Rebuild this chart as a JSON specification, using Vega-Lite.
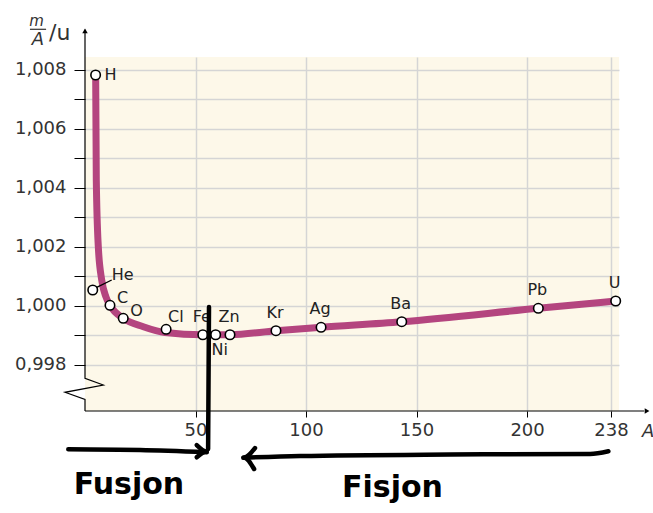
{
  "$schema": "https://vega.github.io/schema/vega-lite/v6.json",
  "width": 534,
  "height": 354,
  "autosize": {"type": "none"},
  "padding": {"left": 85, "top": 57, "right": 34, "bottom": 102},
  "background": "white",
  "config": {"view": {"fill": "#FDF8E9", "stroke": null}, "font": "DejaVu Sans"},
  "encoding": {
    "x": {"field": "A", "type": "quantitative",
      "scale": {"domain": [0, 241.6], "nice": false, "zero": false},
      "axis": {"values": [50, 100, 150, 200, 238], "title": null, "grid": true, "gridColor": "#D5D5D5", "gridWidth": 1.5, "domain": false, "tickColor": "#000", "tickSize": 6, "tickWidth": 1, "labelFontSize": 18, "labelColor": "#333", "labelPadding": 4, "labelFlush": false, "labelOverlap": false, "labelFont": "DejaVu Sans"}},
    "y": {"field": "m", "type": "quantitative",
      "scale": {"domain": [0.996427, 1.008427], "nice": false, "zero": false},
      "axis": {"values": [0.998, 0.999, 1.0, 1.001, 1.002, 1.003, 1.004, 1.005, 1.006, 1.007, 1.008], "title": null, "grid": true, "gridColor": "#D5D5D5", "gridWidth": 1.5, "domain": false, "tickColor": "#000", "tickSize": 11, "tickWidth": 1, "labelFontSize": 18, "labelColor": "#333", "labelPadding": 8, "labelFlush": false, "labelOverlap": false, "labelFont": "DejaVu Sans",
        "labelExpr": "round(datum.value*1000)%2==0 ? replace(format(datum.value,'.3f'),'.',',') : ''"}}
  },
  "layer": [
    {
      "data": {"values": [
        {"A": 4.84, "m": 1.007647},
        {"A": 5.11, "m": 1.004258},
        {"A": 6.02, "m": 1.001997},
        {"A": 7.56, "m": 1.000868},
        {"A": 9.5, "m": 1.000291},
        {"A": 11.31, "m": 1.00001},
        {"A": 17.33, "m": 0.999569},
        {"A": 26.38, "m": 0.999285},
        {"A": 36.2, "m": 0.999088},
        {"A": 53.26, "m": 0.999013},
        {"A": 65.6, "m": 0.999013},
        {"A": 86.4, "m": 0.999149},
        {"A": 106.8, "m": 0.999264},
        {"A": 143.3, "m": 0.999454},
        {"A": 205.1, "m": 0.999908},
        {"A": 240.1, "m": 1.000156}
      ]},
      "mark": {"type": "line", "interpolate": "monotone", "color": "#B4457F", "strokeWidth": 7, "strokeCap": "round"}
    },
    {
      "data": {"values": [
        {"o": 1, "A": 0, "m": 1.00935},
        {"o": 2, "A": 0, "m": 0.997535},
        {"o": 3, "A": 8.28, "m": 0.997308},
        {"o": 4, "A": -9.05, "m": 0.997061},
        {"o": 5, "A": 0, "m": 0.996823},
        {"o": 6, "A": 0, "m": 0.996427}
      ]},
      "mark": {"type": "line", "color": "#000", "strokeWidth": 1.2},
      "encoding": {"order": {"field": "o", "type": "quantitative"}}
    },
    {
      "data": {"values": [{"A": 0, "A2": 253, "m": 0.996427}]},
      "mark": {"type": "rule", "color": "#000", "strokeWidth": 1.2},
      "encoding": {"x2": {"field": "A2"}}
    },
    {
      "data": {"values": [{"A": 0, "m": 1.00931}]},
      "mark": {"type": "point", "shape": "triangle-up", "filled": true, "color": "#000", "size": 30, "opacity": 1}
    },
    {
      "data": {"values": [{"A": 254.3, "m": 0.996427}]},
      "mark": {"type": "point", "shape": "triangle-right", "filled": true, "color": "#000", "size": 30, "opacity": 1}
    },
    {
      "data": {"values": [{"A": 5.29, "m": 1.00062, "A2": 12.08, "m2": 1.000868}]},
      "mark": {"type": "rule", "color": "#000", "strokeWidth": 1.3},
      "encoding": {"x2": {"field": "A2"}, "y2": {"field": "m2"}}
    },
    {
      "data": {"name": "pts", "values": [
        {"el": "H", "A": 4.8, "m": 1.007817, "place": "right"},
        {"el": "He", "A": 3.5, "m": 1.000529, "place": "he"},
        {"el": "C", "A": 11.3, "m": 1.00001, "place": "upright"},
        {"el": "O", "A": 17.3, "m": 0.999569, "place": "upright"},
        {"el": "Cl", "A": 36.7, "m": 0.999196, "place": "upright2"},
        {"el": "Fe", "A": 53.3, "m": 0.999013, "place": "above"},
        {"el": "Ni", "A": 59.1, "m": 0.999013, "place": "below"},
        {"el": "Zn", "A": 65.6, "m": 0.999013, "place": "above"},
        {"el": "Kr", "A": 86.4, "m": 0.999149, "place": "above"},
        {"el": "Ag", "A": 106.8, "m": 0.999264, "place": "above"},
        {"el": "Ba", "A": 143.3, "m": 0.999454, "place": "above"},
        {"el": "Pb", "A": 205.1, "m": 0.999908, "place": "above"},
        {"el": "U", "A": 240.1, "m": 1.000156, "place": "above"}
      ]},
      "layer": [
        {"mark": {"type": "point", "shape": "circle", "filled": true, "fill": "white", "stroke": "#000", "strokeWidth": 1.6, "size": 90, "opacity": 1}},
        {"transform": [{"filter": "datum.place=='right'"}], "mark": {"type": "text", "align": "left", "baseline": "middle", "dx": 9, "dy": 0, "fontSize": 16, "color": "#222"}, "encoding": {"text": {"field": "el"}}},
        {"transform": [{"filter": "datum.place=='upright'"}], "mark": {"type": "text", "align": "left", "baseline": "middle", "dx": 7, "dy": -7, "fontSize": 16, "color": "#222"}, "encoding": {"text": {"field": "el"}}},
        {"transform": [{"filter": "datum.place=='upright2'"}], "mark": {"type": "text", "align": "left", "baseline": "middle", "dx": 2, "dy": -12, "fontSize": 16, "color": "#222"}, "encoding": {"text": {"field": "el"}}},
        {"transform": [{"filter": "datum.place=='above'"}], "mark": {"type": "text", "align": "center", "baseline": "middle", "dx": -1, "dy": -18, "fontSize": 16, "color": "#222"}, "encoding": {"text": {"field": "el"}}},
        {"transform": [{"filter": "datum.place=='below'"}], "mark": {"type": "text", "align": "center", "baseline": "middle", "dx": 4, "dy": 15, "fontSize": 16, "color": "#222"}, "encoding": {"text": {"field": "el"}}},
        {"transform": [{"filter": "datum.place=='he'"}], "mark": {"type": "text", "align": "left", "baseline": "middle", "dx": 19, "dy": -15, "fontSize": 16, "color": "#222"}, "encoding": {"text": {"field": "el"}}}
      ]
    },
    {
      "data": {"values": [
        {"g": "v", "o": 1, "A": 56.1, "m": 0.999952},
        {"g": "v", "o": 2, "A": 55.7, "m": 0.995139},
        {"g": "fu", "o": 1, "A": -7.56, "m": 0.995129},
        {"g": "fu", "o": 2, "A": 24.9, "m": 0.995105},
        {"g": "fu", "o": 3, "A": 55.07, "m": 0.995027},
        {"g": "fuh", "o": 1, "A": 50.54, "m": 0.995274},
        {"g": "fuh", "o": 2, "A": 55.07, "m": 0.995054},
        {"g": "fuh", "o": 3, "A": 50.54, "m": 0.994857},
        {"g": "fi", "o": 1, "A": 236.8, "m": 0.995061},
        {"g": "fi", "o": 2, "A": 228.5, "m": 0.99497},
        {"g": "fi", "o": 3, "A": 165.2, "m": 0.994953},
        {"g": "fi", "o": 4, "A": 97.3, "m": 0.994902},
        {"g": "fi", "o": 5, "A": 71.6, "m": 0.994844},
        {"g": "fih", "o": 1, "A": 76.9, "m": 0.995172},
        {"g": "fih", "o": 2, "A": 71.9, "m": 0.994851},
        {"g": "fih", "o": 3, "A": 76.5, "m": 0.994461}
      ]},
      "mark": {"type": "line", "color": "#000", "strokeWidth": 4.5, "strokeCap": "round", "strokeJoin": "round", "interpolate": "monotone"},
      "encoding": {"detail": {"field": "g"}, "order": {"field": "o", "type": "quantitative"}}
    },
    {
      "data": {"values": [
        {"t": "Fusjon", "A": 19.9, "m": 0.993919},
        {"t": "Fisjon", "A": 139.1, "m": 0.993817}
      ]},
      "mark": {"type": "text", "align": "center", "baseline": "middle", "fontSize": 30, "fontWeight": "bold", "color": "#000", "font": "DejaVu Sans"},
      "encoding": {"text": {"field": "t"}}
    },
    {
      "data": {"values": [{"t": "A", "A": 254.75, "m": 0.995715}]},
      "mark": {"type": "text", "align": "center", "baseline": "middle", "fontSize": 18, "fontStyle": "italic", "color": "#333"},
      "encoding": {"text": {"field": "t"}}
    },
    {
      "data": {"values": [{"t": "m", "A": -21.9, "m": 1.009647}]},
      "mark": {"type": "text", "align": "center", "baseline": "middle", "fontSize": 15, "fontStyle": "italic", "color": "#333"},
      "encoding": {"text": {"field": "t"}}
    },
    {
      "data": {"values": [{"t": "A", "A": -21.3, "m": 1.009003}]},
      "mark": {"type": "text", "align": "center", "baseline": "middle", "fontSize": 18, "fontStyle": "italic", "color": "#333"},
      "encoding": {"text": {"field": "t"}}
    },
    {
      "data": {"values": [{"t": "/u", "A": -16.3, "m": 1.009241}]},
      "mark": {"type": "text", "align": "left", "baseline": "middle", "fontSize": 22, "color": "#333"},
      "encoding": {"text": {"field": "t"}}
    },
    {
      "data": {"values": [{"A": -24.9, "A2": -17.6, "m": 1.009366}]},
      "mark": {"type": "rule", "color": "#333", "strokeWidth": 1.2},
      "encoding": {"x2": {"field": "A2"}}
    }
  ]
}
